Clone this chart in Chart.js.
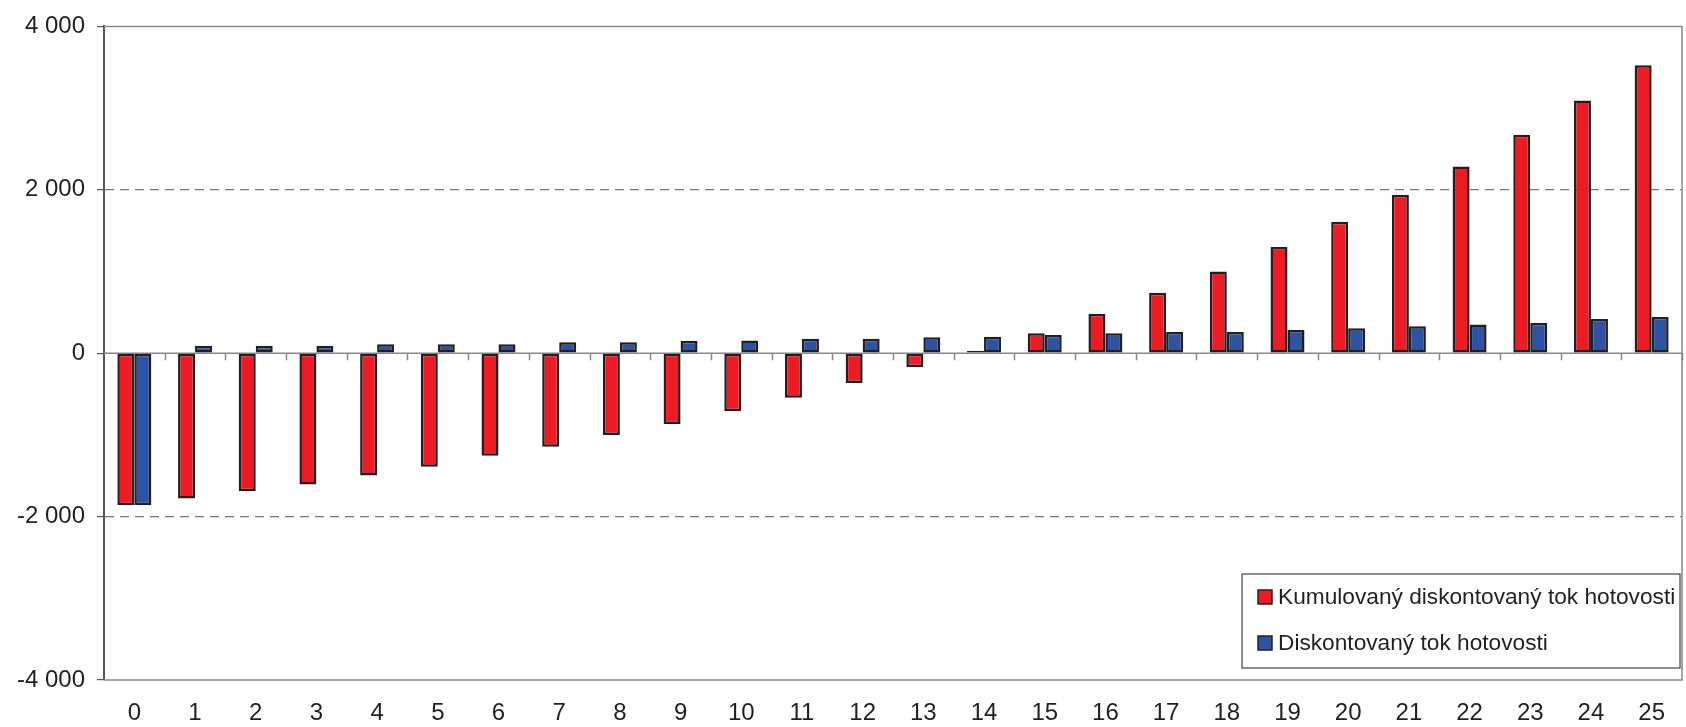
<!DOCTYPE html>
<html>
<head>
<meta charset="utf-8">
<script src="https://cdn.jsdelivr.net/npm/chart.js@4.4.1/dist/chart.umd.min.js"></script>
<style>
  html, body { margin:0; padding:0; background:#fff; }
  #wrap { width:1686px; height:727px; position:relative; }
</style>
</head>
<body>
<div id="wrap"><canvas id="cashChart"></canvas></div>
<script>
// ----- data -----
const years = ["0","1","2","3","4","5","6","7","8","9","10","11","12","13","14","15","16","17","18","19","20","21","22","23","24","25"];
const cumulativeFlow = [-1860,-1777,-1691,-1606,-1496,-1390,-1256,-1146,-1000,-866,-711,-544,-366,-171,30,244,484,740,1000,1301,1610,1935,2285,2675,3094,3524];
const discountedFlow = [-1860,90,90,90,110,110,110,134,134,151,155,176,176,195,200,223,244,261,261,285,305,329,350,371,418,443];
const yTicks = [-4000,-2000,0,2000,4000];

const FONT = 'Arial, "Liberation Sans", sans-serif';
const TEXT = '#231f20';
const EDGE = '#231f20';

// zero line, x tick marks, plot frame
const framePlugin = {
  id: 'frame',
  beforeDatasetsDraw(chart){
    const {ctx, chartArea:a, scales:{x, y}} = chart;
    const y0 = y.getPixelForValue(0);
    ctx.save();
    ctx.strokeStyle = '#888';
    ctx.lineWidth = 1.5;
    ctx.beginPath();
    ctx.moveTo(a.left, y0); ctx.lineTo(a.right, y0);
    const step = (a.right - a.left) / years.length;
    for(let i=1;i<=years.length;i++){
      const px = Math.round(a.left + step*i) + 0.5;
      ctx.moveTo(px, y0); ctx.lineTo(px, y0 + 7);
    }
    ctx.stroke();
    ctx.beginPath();
    ctx.moveTo(a.left, a.top); ctx.lineTo(a.right, a.top);
    ctx.lineTo(a.right, a.bottom); ctx.lineTo(a.left, a.bottom);
    ctx.stroke();
    ctx.restore();
  }
};

// legend box inside plot
const boxLegend = {
  id: 'boxLegend',
  afterDraw(chart){
    const {ctx, chartArea:a} = chart;
    const w = 438, h = 94;
    const bx = a.right - 2 - w, by = a.bottom - 12 - h;
    ctx.save();
    ctx.fillStyle = '#fff';
    ctx.fillRect(bx, by, w, h);
    ctx.strokeStyle = '#444';
    ctx.lineWidth = 1.2;
    ctx.strokeRect(bx, by, w, h);
    ctx.font = '22.7px ' + FONT;
    ctx.textBaseline = 'middle';
    chart.data.datasets.forEach((ds, i)=>{
      const cy = by + 23 + i*46;
      ctx.fillStyle = ds.backgroundColor;
      ctx.fillRect(bx+16, cy-7, 14, 14);
      ctx.strokeStyle = EDGE;
      ctx.lineWidth = 1.5;
      ctx.strokeRect(bx+16, cy-7, 14, 14);
      ctx.fillStyle = TEXT;
      ctx.fillText(ds.label, bx+36, cy+1);
    });
    ctx.restore();
  }
};

new Chart(document.getElementById('cashChart'), {
  type: 'bar',
  data: {
    labels: years,
    datasets: [
      { label: 'Kumulovaný diskontovaný tok hotovosti', data: cumulativeFlow, backgroundColor: '#ed1c24', borderColor: EDGE, borderWidth: 2.5, borderSkipped: false },
      { label: 'Diskontovaný tok hotovosti', data: discountedFlow, backgroundColor: '#2e53a3', borderColor: EDGE, borderWidth: 2.5, borderSkipped: false }
    ]
  },
  options: {
    responsive: true,
    maintainAspectRatio: false,
    animation: false,
    layout: { padding: { top: 24, right: 4, left: 0, bottom: 0 } },
    datasets: { bar: { categoryPercentage: 0.56, barPercentage: 1 } },
    plugins: { legend: { display: false }, tooltip: { enabled: false } },
    scales: {
      x: {
        grid: { display: false },
        border: { display: false },
        ticks: { color: TEXT, font: { family: FONT, size: 24 }, padding: 11, maxRotation: 0 },
        afterFit: s => { s.height = 47; }
      },
      y: {
        min: -4000, max: 4000,
        afterBuildTicks: s => { s.ticks = yTicks.map(v=>({value:v})); },
        afterFit: s => { s.width = 104; },
        grid: {
          color: c => (c.tick && (c.tick.value === 2000 || c.tick.value === -2000)) ? '#777' : 'rgba(0,0,0,0)',
          lineWidth: 1.2,
          tickLength: 7,
          tickColor: '#555',
          tickBorderDash: []
        },
        border: { display: true, color: '#555', width: 2, dash: [9,6] },
        ticks: {
          color: TEXT, font: { family: FONT, size: 24 }, padding: 12,
          callback: v => (v < 0 ? '-' : '') + Math.abs(v).toString().replace(/\B(?=(\d{3})+(?!\d))/g, ' ')
        }
      }
    }
  },
  plugins: [framePlugin, boxLegend]
});
</script>
</body>
</html>
